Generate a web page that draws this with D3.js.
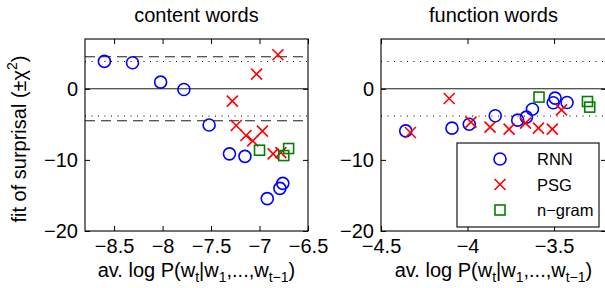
<!DOCTYPE html>
<html>
<head>
  <meta charset="utf-8">
  <script type="text/javascript" src="https://cdn.jsdelivr.net/npm/d3@7"></script>
  <style>
    body { margin: 0; background: #fff; }
    text { font-family: "Liberation Sans", Arial, sans-serif; fill: #000; }
  </style>
</head>
<body>
  <div id="chart"></div>
  <script type="text/javascript">
    var w = 605;
    var h = 288;

    // content words panel
    var contentRnnX = [-8.60, -8.31, -8.02, -7.78, -7.52, -7.31, -7.15, -6.92, -6.79, -6.76];
    var contentRnnY = [3.85, 3.66, 0.94, -0.1, -5.1, -9.15, -9.5, -15.45, -14.0, -13.3];
    var contentPsgX = [-6.81, -7.03, -7.28, -7.24, -7.14, -7.07, -6.97, -6.86, -6.78];
    var contentPsgY = [4.79, 2.06, -1.74, -5.17, -6.57, -7.33, -5.96, -9.15, -8.97];
    var contentNgramX = [-7.00, -6.75, -6.70];
    var contentNgramY = [-8.64, -9.39, -8.4];

    // function words panel
    var funcRnnX = [-4.357, -4.09, -3.99, -3.84, -3.71, -3.66, -3.625, -3.505, -3.494, -3.425];
    var funcRnnY = [-5.92, -5.54, -4.98, -3.8, -4.41, -3.99, -2.87, -1.97, -1.31, -1.93];
    var funcPsgX = [-4.33, -4.106, -3.98, -3.87, -3.76, -3.665, -3.59, -3.51, -3.457];
    var funcPsgY = [-6.15, -1.36, -4.69, -5.4, -5.68, -4.83, -5.54, -5.68, -2.96];
    var funcNgramX = [-3.587, -3.307, -3.294];
    var funcNgramY = [-1.17, -1.79, -2.58];

    var yTicks = [-20, -10, 0];
    var contentXTicks = [-8.5, -8, -7.5, -7, -6.5];
    var funcXTicks = [-4.5, -4, -3.5];
    var chiDotted = 3.84;   // chi^2 critical value
    var chiDashed = 4.5;

    var legendNames = ["RNN", "PSG", "n\u2212gram"];

    var svg = d3.select("#chart")
      .append("svg")
      .attr("width", w)
      .attr("height", h);

    var plotTop = 39, plotBottom = 231;
    var yScale = d3.scaleLinear().domain([-20, 7]).range([plotBottom, plotTop]);
    var fmt = d3.format("~g");

    function zip(xs, ys) {
      return xs.map(function(x, i) { return {x: x, y: ys[i]}; });
    }

    function circle(g, x, y) {
      g.append("circle").attr("cx", x).attr("cy", y).attr("r", 6)
        .attr("fill", "none").attr("stroke", "#0000ff").attr("stroke-width", 1.6);
    }
    function cross(g, x, y) {
      g.append("path")
        .attr("d", "M" + (x - 5.5) + "," + (y - 5.5) + "L" + (x + 5.5) + "," + (y + 5.5) +
                   "M" + (x - 5.5) + "," + (y + 5.5) + "L" + (x + 5.5) + "," + (y - 5.5))
        .attr("stroke", "#ff0000").attr("stroke-width", 1.6).attr("fill", "none");
    }
    function square(g, x, y) {
      g.append("rect").attr("x", x - 5).attr("y", y - 5).attr("width", 10).attr("height", 10)
        .attr("fill", "none").attr("stroke", "#008000").attr("stroke-width", 1.6);
    }

    function panel(opts) {
      var xScale = d3.scaleLinear().domain(opts.domain).range(opts.range);
      var g = svg.append("g");
      var x0 = opts.range[0], x1 = opts.range[1];

      // reference lines
      g.append("line").attr("x1", x0).attr("x2", x1)
        .attr("y1", yScale(0)).attr("y2", yScale(0))
        .attr("stroke", "#000").attr("stroke-width", 0.9);
      [chiDotted, -chiDotted].forEach(function(v) {
        g.append("line").attr("x1", x0).attr("x2", x1)
          .attr("y1", yScale(v)).attr("y2", yScale(v))
          .attr("stroke", "#000").attr("stroke-width", 1)
          .attr("stroke-dasharray", "1,5.5");
      });
      if (opts.dashed) {
        [chiDashed, -chiDashed].forEach(function(v) {
          g.append("line").attr("x1", x0).attr("x2", x1)
            .attr("y1", yScale(v)).attr("y2", yScale(v))
            .attr("stroke", "#000").attr("stroke-width", 0.9)
            .attr("stroke-dasharray", "10,6");
        });
      }

      // axes with inward ticks on all four sides
      var xAxis = d3.axisBottom(xScale).tickValues(opts.xTicks).tickFormat(fmt)
        .tickSizeInner(-5).tickSizeOuter(0).tickPadding(8);
      g.append("g").attr("transform", "translate(0," + plotBottom + ")").call(xAxis);
      var xTop = d3.axisTop(xScale).tickValues(opts.xTicks).tickFormat("")
        .tickSizeInner(-5).tickSizeOuter(0);
      g.append("g").attr("transform", "translate(0," + plotTop + ")").call(xTop);
      var yAxis = d3.axisLeft(yScale).tickValues(yTicks).tickFormat(fmt)
        .tickSizeInner(-5).tickSizeOuter(0).tickPadding(7);
      g.append("g").attr("transform", "translate(" + x0 + ",0)").call(yAxis);
      var yRight = d3.axisRight(yScale).tickValues(yTicks).tickFormat("")
        .tickSizeInner(-5).tickSizeOuter(0);
      g.append("g").attr("transform", "translate(" + x1 + ",0)").call(yRight);
      g.selectAll(".domain").remove();
      g.selectAll(".tick line").attr("stroke", "#000");
      g.selectAll(".tick text").style("font-size", "20px")
        .style("font-family", "'Liberation Sans', Arial, sans-serif");

      g.append("rect").attr("x", x0).attr("y", plotTop)
        .attr("width", x1 - x0).attr("height", plotBottom - plotTop)
        .attr("fill", "none").attr("stroke", "#000").attr("stroke-width", 1.1);

      // markers
      var clip = "clip" + opts.id;
      svg.append("clipPath").attr("id", clip).append("rect")
        .attr("x", x0).attr("y", plotTop).attr("width", x1 - x0).attr("height", plotBottom - plotTop);
      var m = g.append("g").attr("clip-path", "url(#" + clip + ")");
      zip(opts.rnnX, opts.rnnY).forEach(function(d) { circle(m, xScale(d.x), yScale(d.y)); });
      zip(opts.psgX, opts.psgY).forEach(function(d) { cross(m, xScale(d.x), yScale(d.y)); });
      zip(opts.ngX, opts.ngY).forEach(function(d) { square(m, xScale(d.x), yScale(d.y)); });

      // title
      var cx = (x0 + x1) / 2;
      g.append("text").attr("x", cx).attr("y", 22).attr("text-anchor", "middle")
        .style("font-size", "20px").text(opts.title);

      // x label: av. log P(w_t|w_1,...,w_t-1)
      var lab = g.append("text").attr("x", cx).attr("y", 277).attr("text-anchor", "middle")
        .style("font-size", "20px");
      lab.append("tspan").text("av. log P(w");
      lab.append("tspan").attr("dy", 5).style("font-size", "14px").text("t");
      lab.append("tspan").attr("dy", -5).text("|w");
      lab.append("tspan").attr("dy", 5).style("font-size", "14px").text("1");
      lab.append("tspan").attr("dy", -5).text(",...,w");
      lab.append("tspan").attr("dy", 5).style("font-size", "14px").text("t\u22121");
      lab.append("tspan").attr("dy", -5).text(")");
      return xScale;
    }

    panel({
      id: "a", title: "content words", domain: [-8.8, -6.5], range: [85, 308],
      xTicks: contentXTicks, dashed: true,
      rnnX: contentRnnX, rnnY: contentRnnY, psgX: contentPsgX, psgY: contentPsgY,
      ngX: contentNgramX, ngY: contentNgramY
    });
    panel({
      id: "b", title: "function words", domain: [-4.5, -3.2], range: [381, 606],
      xTicks: funcXTicks, dashed: false,
      rnnX: funcRnnX, rnnY: funcRnnY, psgX: funcPsgX, psgY: funcPsgY,
      ngX: funcNgramX, ngY: funcNgramY
    });

    // y label
    var yl = svg.append("text")
      .attr("transform", "translate(26," + ((plotTop + plotBottom) / 2 + 4) + ") rotate(-90)")
      .attr("text-anchor", "middle")
      .style("font-size", "20px");
    yl.append("tspan").text("fit of surprisal (\u00b1\u03c7");
    yl.append("tspan").attr("dy", -9).style("font-size", "14px").text("2");
    yl.append("tspan").attr("dy", 9).text(")");

    // legend
    var lg = svg.append("g");
    lg.append("rect").attr("x", 457).attr("y", 143).attr("width", 142).attr("height", 84)
      .attr("fill", "#fff").attr("stroke", "#000").attr("stroke-width", 1.1);
    var legendY = d3.scalePoint().domain(legendNames).range([159, 210]);
    var drawers = [circle, cross, square];
    legendNames.forEach(function(name, i) {
      drawers[i](lg, 500, legendY(name));
      lg.append("text").attr("x", 537).attr("y", legendY(name) + 6)
        .style("font-size", "16.5px").text(name);
    });
  </script>
</body>
</html>
